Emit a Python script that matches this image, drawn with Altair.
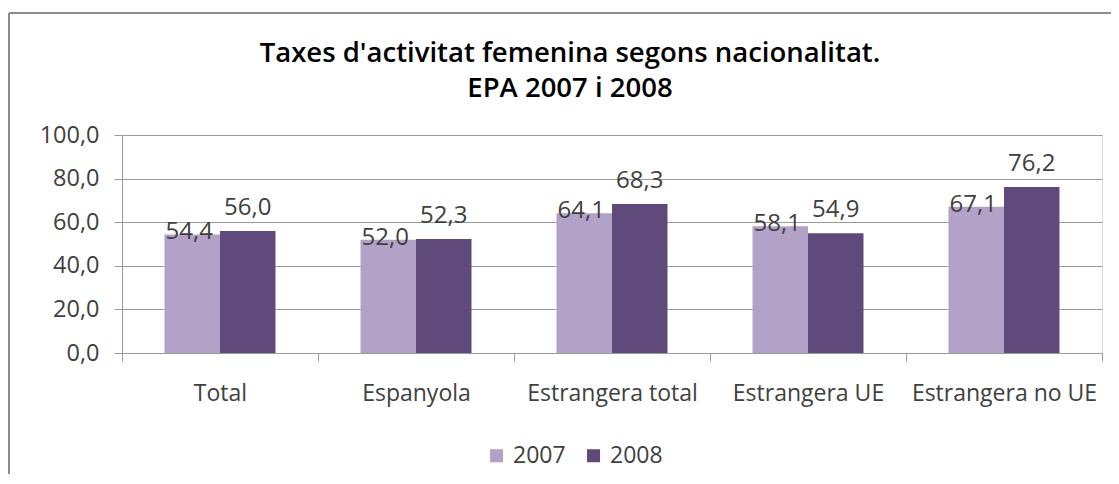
import altair as alt
import pandas as pd

categories = ["Total", "Espanyola", "Estrangera total", "Estrangera UE", "Estrangera no UE"]
years = ["2007", "2008"]
values_2007 = [54.4, 52.0, 64.1, 58.1, 67.1]
values_2008 = [56.0, 52.3, 68.3, 54.9, 76.2]
colors = ["#B3A2C7", "#604A7B"]
title_lines = ["Taxes d'activitat femenina segons nacionalitat.", "EPA 2007 i 2008"]

rows = []
for c, v in zip(categories, values_2007):
    rows.append({"cat": c, "year": "2007", "value": v})
for c, v in zip(categories, values_2008):
    rows.append({"cat": c, "year": "2008", "value": v})
df = pd.DataFrame(rows)

FONT = "Open Sans"
TXT = "#404040"
GRID = "#9a9a9a"

W, H = 980, 218
PL, PT = 114, 127
TOTAL_W, TOTAL_H = 1103, 466

x_enc = alt.X(
    "cat:N",
    sort=categories,
    scale=alt.Scale(paddingInner=0, paddingOuter=0),
    axis=alt.Axis(
        title=None, labelAngle=0, tickBand="extent", tickSize=8, labelPadding=21,
        labelFontSize=23, labelFont=FONT, labelColor=TXT, labelLimit=400, labelOverlap=False,
        domainColor=GRID, tickColor=GRID, grid=False,
    ),
)
xoff = alt.XOffset("year:N", sort=years, scale=alt.Scale(paddingInner=0, paddingOuter=0.766))
y_enc = alt.Y(
    "value:Q",
    scale=alt.Scale(domain=[0, 100]),
    axis=alt.Axis(
        title=None, values=[0, 20, 40, 60, 80, 100], tickSize=8, labelPadding=15,
        labelExpr="replace(format(datum.value, '.1f'), '.', ',')",
        labelFontSize=23.5, labelFont=FONT, labelColor=TXT,
        domainColor=GRID, tickColor=GRID, gridColor=GRID, grid=True,
    ),
)

base = alt.Chart(df).transform_calculate(
    label="replace(format(datum.value, '.1f'), '.', ',')"
)

bars = base.mark_bar().encode(
    x=x_enc,
    xOffset=xoff,
    y=y_enc,
    color=alt.Color(
        "year:N",
        scale=alt.Scale(domain=years, range=colors),
        legend=alt.Legend(
            title=None, orient="none", legendX=363, legendY=309, direction="horizontal",
            symbolType="square", symbolSize=169, symbolStrokeWidth=0,
            labelFontSize=23, labelFont=FONT, labelColor=TXT, labelOffset=5,
            columnPadding=16, padding=0,
        ),
    ),
)

text07 = base.transform_filter("datum.year == '2007'").mark_text(
    baseline="middle", dy=-2, dx=-3, fontSize=24, font=FONT, color=TXT
).encode(x=x_enc, xOffset=xoff, y=y_enc, text="label:N")

text08 = base.transform_filter("datum.year == '2008'").mark_text(
    baseline="middle", dy=-23, fontSize=24, font=FONT, color=TXT
).encode(x=x_enc, xOffset=xoff, y=y_enc, text="label:N")

one = pd.DataFrame({"k": [0]})
border_left = alt.Chart(one).mark_rule(color="#8c8c8c", strokeWidth=2).encode(
    x=alt.value(-113), y=alt.value(-122), y2=alt.value(TOTAL_H - PT)
)
border_top = alt.Chart(one).mark_rule(color="#8c8c8c", strokeWidth=2).encode(
    x=alt.value(-113), x2=alt.value(TOTAL_W - PL), y=alt.value(-122)
)

chart = alt.layer(bars, text07, text08, border_left, border_top).properties(
    width=W,
    height=H,
    autosize=alt.AutoSizeParams(type="none"),
    padding={"left": PL, "top": PT, "right": TOTAL_W - PL - W, "bottom": TOTAL_H - PT - H},
    title=alt.TitleParams(
        text=title_lines, anchor="middle", frame="group", dx=-42, dy=114, offset=24,
        fontSize=27.5, font=FONT, fontWeight=600, color="#000000", lineHeight=35,
    ),
).configure_view(strokeWidth=0).configure(background="white")

chart.save("out.html", embed_options={"renderer": "svg", "actions": False})
